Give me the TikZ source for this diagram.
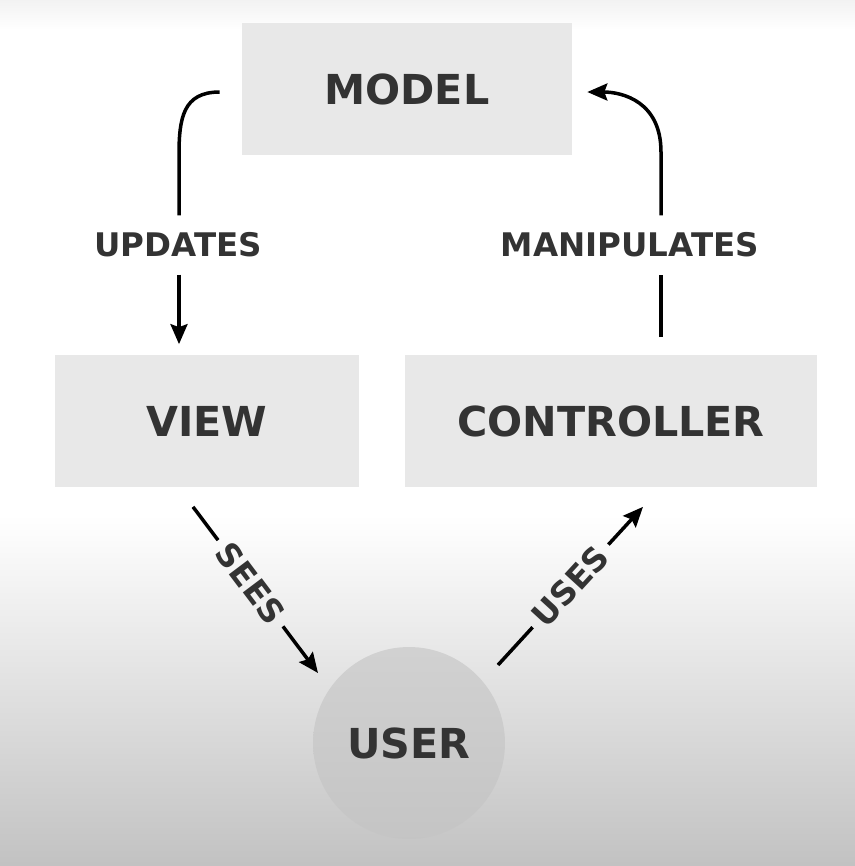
\documentclass[tikz,border=0pt]{standalone}
\usepackage{fontspec}
\setmainfont{DejaVu Sans}
\usetikzlibrary{arrows.meta,positioning}

\definecolor{boxgray}{HTML}{E8E8E8}
\definecolor{textgray}{HTML}{333333}

\tikzset{
  part/.style={fill=boxgray, text=textgray, font=\bfseries\fontsize{23.5}{28}\selectfont, minimum height=2.66cm, inner sep=0pt},
  lbl/.style={text=textgray, font=\bfseries\fontsize{18.5}{22}\selectfont, inner xsep=0.16cm, inner ysep=0.34cm},
  link/.style={line width=0.07cm, black},
  tip/.style={-{Stealth[length=0.4cm,width=0.34cm,inset=0.06cm]}}
}

\begin{document}
\begin{tikzpicture}[x=0.02cm,y=-0.02cm]
  \useasboundingbox (0,0) rectangle (855,866);
  \shade [top color=black!5, bottom color=white] (0,0) rectangle (855,30);
  \shade [top color=white, bottom color=black!24] (0,515) rectangle (855,866);

  % the three parts and the user
  \node [part, minimum width=6.6cm] (model) at (407,89) {MODEL};
  \node [part, minimum width=6.1cm] (view) at (207,421) {VIEW};
  \node [part, minimum width=8.24cm] (controller) at (611,421) {CONTROLLER};
  \node [circle, top color=black!18, bottom color=black!23, text=textgray,
         font=\bfseries\fontsize{23.5}{28}\selectfont, minimum size=3.84cm] (user) at (409,743) {USER};

  \node [lbl] (updates) at (178,245) {UPDATES};
  \node [lbl] (manipulates) at (630,245) {MANIPULATES};

  \coordinate (upstart) at ([xshift=-0.44cm,yshift=-0.06cm]model.west);
  \coordinate (upx) at (179,155);
  \coordinate (mpx) at (661,152);

  \draw [link] (upstart) to[out=180,in=90,looseness=1.25] (upx) -- (upx |- updates.north);
  \draw [link, tip, shorten >=0.2cm] (upx |- updates.south) -- (upx |- view.north);

  \draw [link, shorten <=0.34cm] (mpx |- controller.north) -- (mpx |- manipulates.south);
  \draw [link, tip, shorten >=0.3cm] (mpx |- manipulates.north) -- (mpx) to[out=90,in=0,looseness=1.2] ([yshift=-0.06cm]model.east);

  % user links
  \coordinate (seesA) at ([shift={(-14,19)}]view.south);
  \coordinate (seesB) at ([shift={(-91,-70)}]user.center);
  \path (seesA) -- node [lbl, sloped, pos=0.46] (sees) {SEES} (seesB);
  \draw [link] (seesA) -- (sees.west);
  \draw [link, tip] (sees.east) -- (seesB);

  \coordinate (usesA) at ([shift={(89,-78)}]user.center);
  \coordinate (usesB) at ([shift={(32,19)}]controller.south);
  \path (usesA) -- node [lbl, sloped, pos=0.5] (uses) {USES} (usesB);
  \draw [link] (usesA) -- (uses.west);
  \draw [link, tip] (uses.east) -- (usesB);
\end{tikzpicture}
\end{document}
